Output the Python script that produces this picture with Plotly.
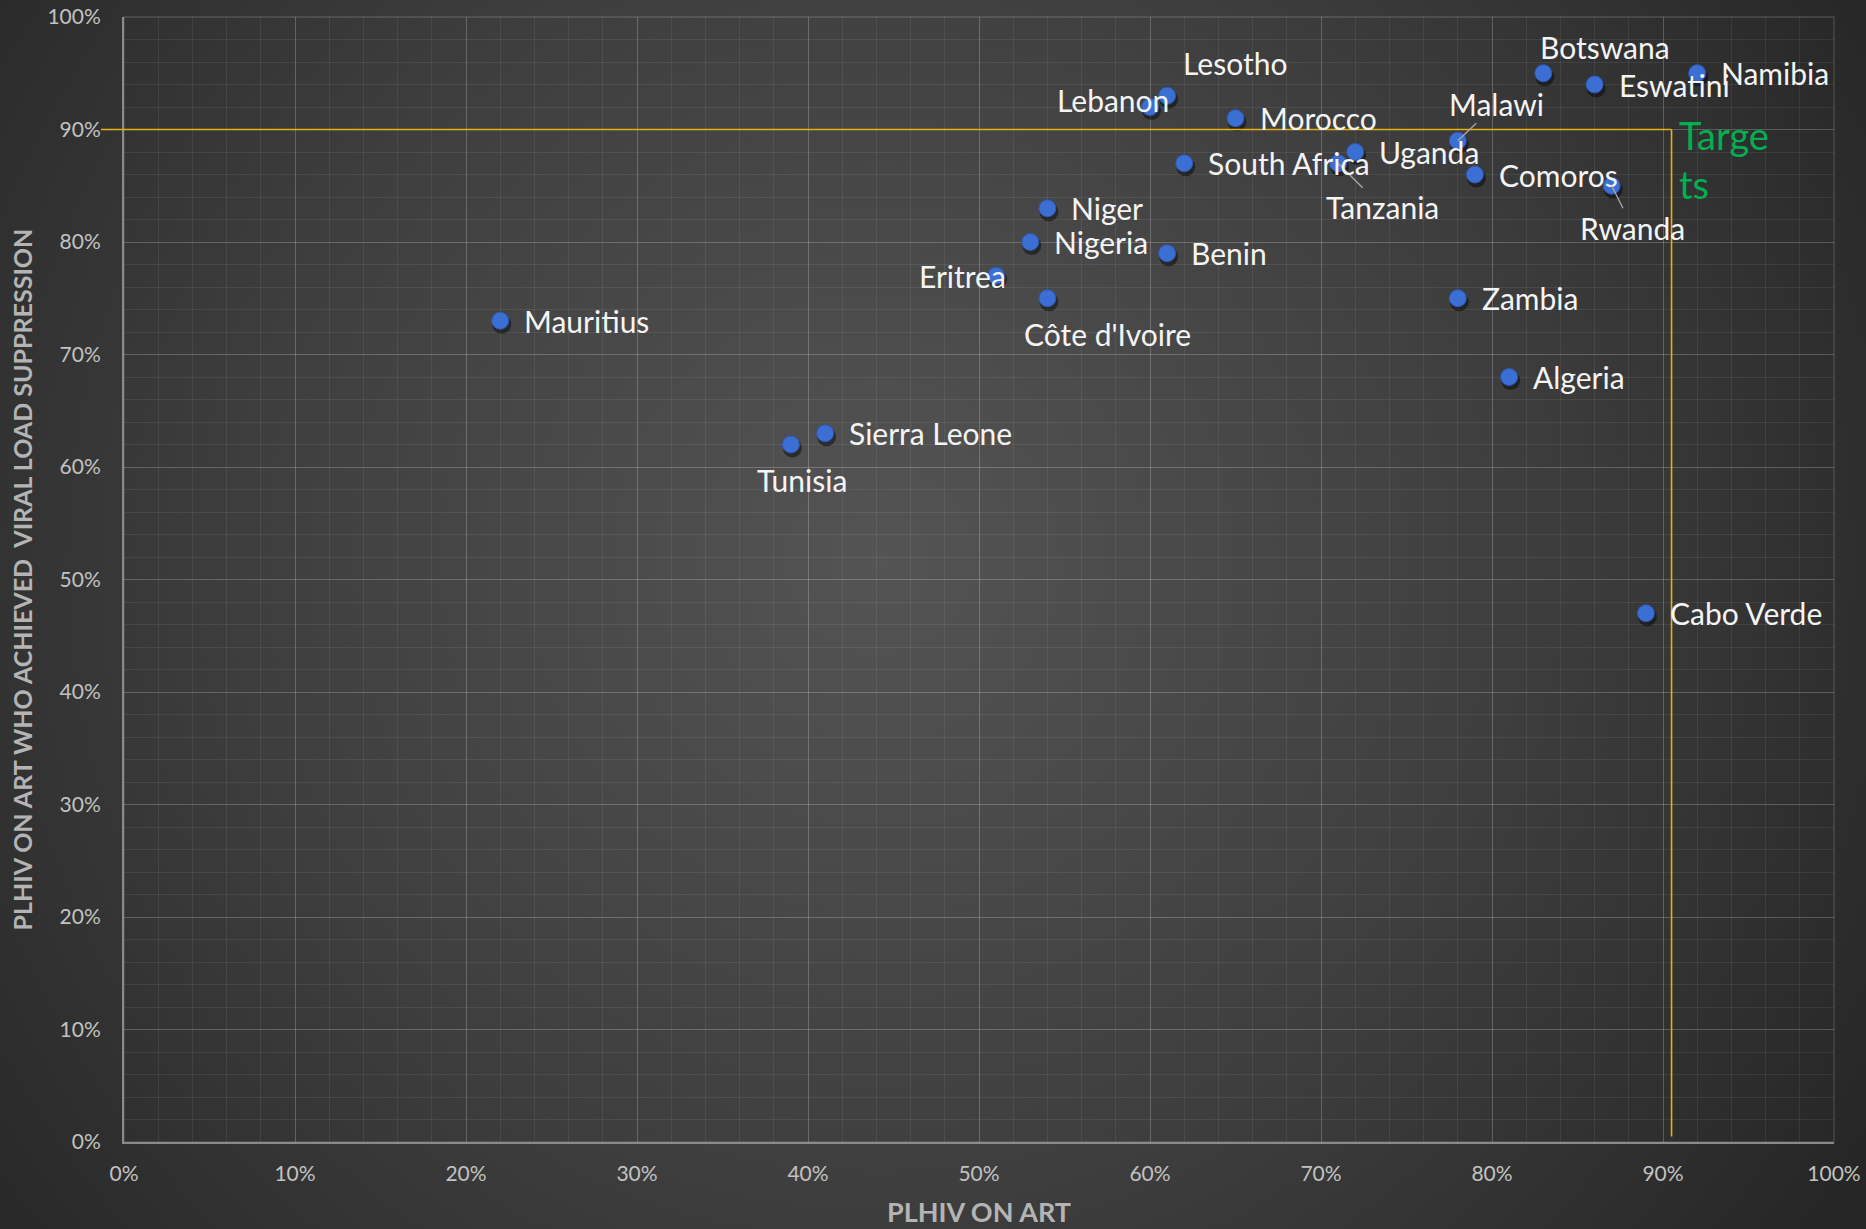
import base64
import plotly.graph_objects as go

# ---- data -------------------------------------------------------------
countries = [
    "Namibia", "Botswana", "Eswatini", "Lesotho", "Lebanon", "Morocco",
    "Malawi", "Uganda", "Tanzania", "South Africa", "Comoros", "Rwanda",
    "Niger", "Nigeria", "Benin", "Eritrea", "Côte d'Ivoire", "Zambia",
    "Mauritius", "Algeria", "Sierra Leone", "Tunisia", "Cabo Verde",
]
on_art = [
    0.92, 0.83, 0.86, 0.61, 0.60, 0.65,
    0.78, 0.72, 0.71, 0.62, 0.79, 0.87,
    0.54, 0.53, 0.61, 0.51, 0.54, 0.78,
    0.22, 0.81, 0.41, 0.39, 0.89,
]
viral_suppression = [
    0.95, 0.95, 0.94, 0.93, 0.92, 0.91,
    0.89, 0.88, 0.87, 0.87, 0.86, 0.85,
    0.83, 0.80, 0.79, 0.77, 0.75, 0.75,
    0.73, 0.68, 0.63, 0.62, 0.47,
]
target_on_art = 0.905
target_suppression = 0.90
axis_ticks = [0, 0.1, 0.2, 0.3, 0.4, 0.5, 0.6, 0.7, 0.8, 0.9, 1.0]
tick_text = ["0%", "10%", "20%", "30%", "40%", "50%", "60%", "70%", "80%", "90%", "100%"]

# ---- figure geometry --------------------------------------------------
W, H = 1866, 1229
M_L, M_R, M_T, M_B = 124, 32, 17, 87
PLOT_W = W - M_L - M_R
PLOT_H = H - M_T - M_B

FONT = "Lato"
LABEL_COLOR = "#f4f4f4"
LABEL_SIZE = 30

# label placement: (dx, dy) in px from the point, leader line or not
label_place = {
    "Botswana": (62, -26, False),
    "Lesotho": (68, -33, False),
    "Lebanon": (-37, -7, False),
    "Malawi": (39, -37, True),
    "Tanzania": (44, 44, True),
    "Rwanda": (21, 42, True),
    "Eritrea": (-34, 0, False),
    "Côte d'Ivoire": (60, 36, False),
    "Tunisia": (11, 35, False),
}

# radial background gradient as an svg image
svg = f"""<svg xmlns='http://www.w3.org/2000/svg' width='{W}' height='{H}'>
<defs><radialGradient id='g' gradientUnits='userSpaceOnUse' cx='880' cy='560' r='1150'>
<stop offset='0' stop-color='#545454'/><stop offset='0.55' stop-color='#3e3e3e'/>
<stop offset='1' stop-color='#262626'/></radialGradient></defs>
<rect width='{W}' height='{H}' fill='url(#g)'/></svg>"""
bg_uri = "data:image/svg+xml;base64," + base64.b64encode(svg.encode()).decode()

fig = go.Figure()

# soft drop shadow under each marker
px_x = 1.0 / PLOT_W
px_y = 1.0 / PLOT_H
fig.add_trace(go.Scatter(
    x=[v + 1.5 * px_x for v in on_art],
    y=[v - 3.5 * px_y for v in viral_suppression],
    mode="markers",
    marker=dict(size=19, color="rgba(0,0,0,0.45)", line=dict(width=0)),
    hoverinfo="skip", showlegend=False,
))
fig.add_trace(go.Scatter(
    x=on_art, y=viral_suppression, mode="markers",
    text=countries,
    marker=dict(size=17, color="#3c6fd3", line=dict(width=1, color="#2d58b0")),
    showlegend=False,
))

# target lines
fig.add_shape(type="line", xref="paper", yref="y",
              x0=(101 - M_L) / PLOT_W, x1=target_on_art,
              y0=target_suppression, y1=target_suppression,
              line=dict(color="#e8b00c", width=1.6))
fig.add_shape(type="line", xref="x", yref="y",
              x0=target_on_art, x1=target_on_art,
              y0=0.005, y1=target_suppression,
              line=dict(color="#e8b00c", width=1.6))

annotations = []
for name, xv, yv in zip(countries, on_art, viral_suppression):
    if name in label_place:
        dx, dy, leader = label_place[name]
        if leader:
            annotations.append(dict(
                x=xv, y=yv, text=name, showarrow=True, ax=dx, ay=dy,
                arrowhead=0, arrowwidth=1.3, arrowcolor="#a9a9a9", standoff=0,
                font=dict(family=FONT, size=LABEL_SIZE, color=LABEL_COLOR),
            ))
        else:
            annotations.append(dict(
                x=xv, y=yv, text=name, showarrow=False,
                xanchor="center", yanchor="middle", xshift=dx, yshift=-dy,
                font=dict(family=FONT, size=LABEL_SIZE, color=LABEL_COLOR),
            ))
    else:
        annotations.append(dict(
            x=xv, y=yv, text=name, showarrow=False,
            xanchor="left", yanchor="middle", xshift=22, yshift=0,
            font=dict(family=FONT, size=LABEL_SIZE, color=LABEL_COLOR),
        ))

# "Targets" label
annotations.append(dict(
    x=target_on_art, y=target_suppression, text="Targe<br>ts", showarrow=False,
    xanchor="left", yanchor="top", align="left", xshift=5, yshift=20,
    font=dict(family=FONT, size=38, color="#00b050"),
))

# axis titles
annotations.append(dict(
    xref="paper", yref="paper", x=0.5, y=-69 / PLOT_H,
    text="<b>PLHIV ON ART</b>", showarrow=False, xanchor="center", yanchor="middle",
    font=dict(family=FONT, size=27, color="#b4b4b4"),
))
annotations.append(dict(
    xref="paper", yref="paper", x=(21 - M_L) / PLOT_W, y=0.5,
    text="<b>PLHIV ON ART WHO ACHIEVED  VIRAL LOAD SUPPRESSION</b>",
    showarrow=False, textangle=-90, xanchor="center", yanchor="middle",
    font=dict(family=FONT, size=25, color="#b4b4b4"),
))

axis_common = dict(
    range=[0, 1], tickvals=axis_ticks, ticktext=tick_text,
    showgrid=True, gridcolor="rgba(255,255,255,0.16)", gridwidth=1.3,
    minor=dict(dtick=0.02, showgrid=True, gridcolor="rgba(255,255,255,0.07)", gridwidth=1),
    zeroline=False, showline=True, linecolor="#8a8a8a", linewidth=2,
    tickfont=dict(family=FONT, size=21, color="#c2c2c2"),
    ticks="", automargin=False, fixedrange=True,
)

fig.update_layout(
    width=W, height=H,
    margin=dict(l=M_L, r=M_R, t=M_T, b=M_B),
    paper_bgcolor="#2e2e2e", plot_bgcolor="rgba(0,0,0,0)",
    xaxis=dict(**axis_common, ticklabelstandoff=12),
    yaxis=dict(**axis_common, ticklabelstandoff=17),
    annotations=annotations,
    images=[dict(source=bg_uri, xref="paper", yref="paper",
                 x=-M_L / PLOT_W, y=1 + M_T / PLOT_H,
                 sizex=W / PLOT_W, sizey=H / PLOT_H,
                 xanchor="left", yanchor="top", sizing="stretch", layer="below")],
    showlegend=False,
    hovermode="closest",
)

# outer right/top border of the plot area
fig.add_shape(type="rect", xref="paper", yref="paper", x0=0, x1=1, y0=0, y1=1,
              line=dict(color="rgba(255,255,255,0.16)", width=1.3), layer="below")

fig.write_html("out.html")
